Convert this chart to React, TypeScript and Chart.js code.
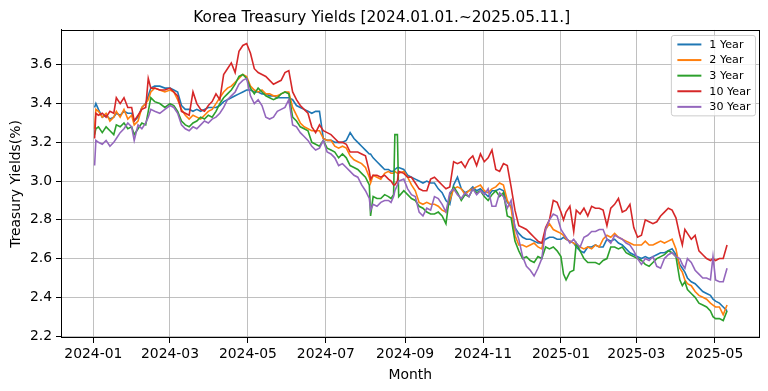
import React, { useEffect, useRef } from 'react';
import { Chart, registerables } from 'chart.js';

Chart.register(...registerables);

const TITLE = 'Korea Treasury Yields [2024.01.01.~2025.05.11.]';
const X_TITLE = 'Month';
const Y_TITLE = 'Treasury Yields(%)';

// days since 2024-01-01
const days = [
  1, 2, 4, 7, 10, 13, 16, 18, 21, 24, 27, 30, 32, 35, 38, 41, 43, 45, 48, 52, 56,
  60, 63, 66, 69, 72, 75, 78, 81, 84, 87, 90, 93, 96, 99, 102, 105, 108, 111, 114, 117, 120, 123, 126,
  129, 132, 135, 138, 141, 144, 147, 150, 153, 156, 159, 162, 165, 168, 171, 174, 177, 180, 183, 186, 189, 192,
  195, 198, 201, 204, 207, 210, 213, 216, 217, 219, 222, 225, 228, 231, 233, 235, 236, 238, 239, 243, 246, 249, 252, 255, 258,
  261, 264, 267, 270, 273, 276, 279, 282, 285, 288, 291, 294, 297, 300, 303, 306, 309, 312, 315, 318, 321, 324,
  327, 330, 333, 336, 339, 342, 345, 348, 351, 354, 357, 360, 363, 366, 368, 370, 373, 376, 378, 381, 384, 387, 390,
  393, 396, 399, 402, 405, 408, 411, 414, 417, 420, 423, 426, 429, 432, 435, 438, 441, 444, 447, 450, 453, 456,
  459, 461, 463, 465, 468, 471, 474, 477, 480, 483, 485, 487, 490, 493, 496,
];

const y1Year = [
  3.38, 3.40, 3.37, 3.33, 3.34, 3.32, 3.33, 3.35, 3.34, 3.36, 3.35, 3.35, 3.31, 3.33, 3.38, 3.40, 3.44, 3.48, 3.49, 3.49, 3.48,
  3.48, 3.47, 3.46, 3.39, 3.37, 3.37, 3.36, 3.37, 3.36, 3.37, 3.38, 3.38, 3.38, 3.39, 3.41, 3.42, 3.43, 3.44, 3.45, 3.46, 3.47, 3.47, 3.46,
  3.46, 3.45, 3.45, 3.44, 3.44, 3.43, 3.43, 3.43, 3.43, 3.42, 3.39, 3.38, 3.37, 3.36, 3.35, 3.36, 3.36, 3.22, 3.21, 3.21, 3.20, 3.20,
  3.20, 3.21, 3.25, 3.22, 3.20, 3.18, 3.16, 3.14, 3.14, 3.12, 3.10, 3.08, 3.06, 3.06, 3.05, 3.05, 3.06, 3.07, 3.07, 3.06, 3.03, 3.02, 3.01, 3.00, 2.99,
  3.00, 2.99, 2.99, 2.96, 2.94, 2.90, 2.88, 2.98, 3.02, 2.96, 2.94, 2.95, 2.97, 2.95, 2.96, 2.94, 2.92, 2.95, 2.95, 2.96, 2.95, 2.89,
  2.87, 2.76, 2.73, 2.71, 2.70, 2.70, 2.69, 2.68, 2.68, 2.70, 2.71, 2.71, 2.70, 2.70, 2.71, 2.70, 2.69, 2.68, 2.66, 2.64, 2.63, 2.66, 2.66,
  2.67, 2.66, 2.66, 2.70, 2.69, 2.70, 2.68, 2.67, 2.65, 2.63, 2.62, 2.61, 2.60, 2.61, 2.60, 2.61, 2.62, 2.63, 2.63, 2.64, 2.65, 2.62,
  2.57, 2.55, 2.53, 2.50, 2.48, 2.47, 2.45, 2.43, 2.42, 2.41, 2.39, 2.38, 2.37, 2.35, 2.33,
];

const y2Year = [
  3.27, 3.37, 3.36, 3.33, 3.35, 3.31, 3.33, 3.36, 3.33, 3.37, 3.32, 3.34, 3.29, 3.31, 3.38, 3.40, 3.42, 3.46, 3.48, 3.47, 3.46,
  3.47, 3.46, 3.42, 3.37, 3.34, 3.32, 3.34, 3.33, 3.32, 3.34, 3.36, 3.37, 3.40, 3.43, 3.46, 3.48, 3.49, 3.51, 3.53, 3.55, 3.54, 3.49, 3.47,
  3.46, 3.47, 3.45, 3.45, 3.44, 3.44, 3.45, 3.46, 3.46, 3.38, 3.34, 3.30, 3.28, 3.27, 3.26, 3.26, 3.26, 3.22, 3.21, 3.21, 3.18, 3.17,
  3.18, 3.17, 3.13, 3.11, 3.10, 3.09, 3.07, 3.02, 2.99, 3.03, 3.02, 3.01, 3.04, 3.05, 3.04, 3.04, 3.05, 3.04, 3.04, 3.05, 3.02, 2.98, 2.95, 2.89, 2.88,
  2.89, 2.88, 2.88, 2.87, 2.85, 2.84, 2.90, 2.96, 2.97, 2.96, 2.93, 2.95, 2.96, 2.97, 2.98, 2.95, 2.94, 2.96, 2.97, 2.99, 2.98, 2.90,
  2.86, 2.72, 2.67, 2.67, 2.66, 2.67, 2.68, 2.66, 2.65, 2.75, 2.78, 2.75, 2.74, 2.73, 2.72, 2.70, 2.69, 2.68, 2.67, 2.66, 2.65, 2.66, 2.65,
  2.67, 2.66, 2.70, 2.72, 2.71, 2.73, 2.71, 2.70, 2.69, 2.68, 2.67, 2.67, 2.67, 2.69, 2.67, 2.67, 2.68, 2.69, 2.68, 2.69, 2.70, 2.65,
  2.55, 2.53, 2.49, 2.47, 2.46, 2.43, 2.41, 2.40, 2.39, 2.37, 2.36, 2.35, 2.35, 2.31, 2.36,
];

const y3Year = [
  3.24, 3.27, 3.28, 3.25, 3.28, 3.26, 3.24, 3.29, 3.28, 3.30, 3.27, 3.28, 3.24, 3.27, 3.30, 3.29, 3.36, 3.43, 3.41, 3.40, 3.38,
  3.40, 3.39, 3.36, 3.31, 3.29, 3.28, 3.30, 3.31, 3.33, 3.32, 3.34, 3.33, 3.36, 3.40, 3.43, 3.45, 3.47, 3.50, 3.54, 3.55, 3.53, 3.48, 3.45,
  3.48, 3.46, 3.44, 3.43, 3.42, 3.43, 3.45, 3.46, 3.45, 3.33, 3.31, 3.28, 3.27, 3.26, 3.20, 3.19, 3.18, 3.21, 3.17, 3.16, 3.15, 3.12,
  3.14, 3.12, 3.08, 3.07, 3.06, 3.04, 3.02, 2.98, 2.82, 2.92, 2.91, 2.91, 2.93, 2.92, 2.91, 2.93, 3.24, 3.24, 2.92, 2.95, 2.93, 2.91, 2.90, 2.87, 2.86,
  2.84, 2.83, 2.83, 2.84, 2.82, 2.78, 2.93, 2.97, 2.94, 2.90, 2.93, 2.92, 2.96, 2.94, 2.95, 2.92, 2.90, 2.93, 2.95, 2.92, 2.94, 2.82,
  2.81, 2.69, 2.64, 2.60, 2.61, 2.59, 2.58, 2.61, 2.60, 2.66, 2.65, 2.66, 2.64, 2.61, 2.52, 2.49, 2.53, 2.54, 2.68, 2.64, 2.60, 2.58, 2.58,
  2.58, 2.57, 2.59, 2.60, 2.66, 2.66, 2.65, 2.66, 2.63, 2.62, 2.61, 2.60, 2.59, 2.57, 2.56, 2.58, 2.60, 2.61, 2.62, 2.64, 2.63, 2.61,
  2.49, 2.46, 2.48, 2.44, 2.42, 2.40, 2.37, 2.36, 2.35, 2.33, 2.30, 2.29, 2.29, 2.28, 2.33,
];

const y10Year = [
  3.22, 3.35, 3.34, 3.35, 3.33, 3.36, 3.35, 3.43, 3.40, 3.43, 3.38, 3.38, 3.31, 3.34, 3.37, 3.38, 3.53, 3.48, 3.48, 3.47, 3.47,
  3.48, 3.46, 3.44, 3.36, 3.35, 3.34, 3.46, 3.40, 3.37, 3.36, 3.39, 3.41, 3.45, 3.42, 3.55, 3.58, 3.61, 3.56, 3.67, 3.70, 3.71, 3.66, 3.58,
  3.56, 3.55, 3.54, 3.52, 3.50, 3.51, 3.52, 3.56, 3.57, 3.46, 3.42, 3.39, 3.37, 3.35, 3.28, 3.25, 3.29, 3.26, 3.25, 3.24, 3.22, 3.20,
  3.20, 3.19, 3.15, 3.15, 3.15, 3.14, 3.13, 3.05, 3.01, 3.03, 3.03, 3.02, 3.03, 3.01, 3.00, 2.98, 2.98, 3.00, 3.05, 3.04, 3.02, 3.02, 2.99, 2.96, 2.95,
  2.95, 3.01, 3.02, 3.00, 2.98, 2.96, 2.97, 3.10, 3.09, 3.10, 3.07, 3.11, 3.13, 3.08, 3.14, 3.10, 3.12, 3.16, 3.06, 3.05, 3.09, 3.08,
  2.97, 2.85, 2.77, 2.76, 2.75, 2.73, 2.71, 2.69, 2.68, 2.76, 2.80, 2.90, 2.89, 2.84, 2.80, 2.84, 2.87, 2.74, 2.85, 2.83, 2.86, 2.82, 2.87,
  2.86, 2.86, 2.85, 2.77, 2.86, 2.88, 2.91, 2.84, 2.85, 2.88, 2.76, 2.71, 2.72, 2.80, 2.79, 2.78, 2.79, 2.82, 2.84, 2.86, 2.85, 2.81,
  2.72, 2.67, 2.75, 2.73, 2.70, 2.72, 2.64, 2.62, 2.60, 2.59, 2.60, 2.59, 2.60, 2.60, 2.67,
];

const y30Year = [
  3.08, 3.21, 3.20, 3.19, 3.21, 3.18, 3.20, 3.22, 3.25, 3.27, 3.30, 3.28, 3.21, 3.29, 3.27, 3.30, 3.33, 3.37, 3.36, 3.35, 3.37,
  3.39, 3.38, 3.35, 3.29, 3.27, 3.26, 3.28, 3.27, 3.29, 3.31, 3.30, 3.32, 3.33, 3.35, 3.38, 3.42, 3.44, 3.46, 3.50, 3.52, 3.53, 3.44, 3.40,
  3.42, 3.39, 3.33, 3.32, 3.33, 3.36, 3.37, 3.38, 3.42, 3.29, 3.28, 3.25, 3.23, 3.21, 3.18, 3.16, 3.17, 3.21, 3.15, 3.14, 3.12, 3.08,
  3.09, 3.07, 3.05, 3.03, 3.02, 2.98, 2.95, 2.91, 2.85, 2.88, 2.87, 2.89, 2.90, 2.90, 2.89, 2.92, 2.95, 2.98, 3.00, 3.01, 2.96, 2.93, 2.92, 2.84, 2.82,
  2.86, 2.85, 2.92, 2.91, 2.88, 2.84, 2.94, 2.96, 2.93, 2.91, 2.94, 2.92, 2.96, 2.93, 2.95, 2.93, 2.96, 2.87, 2.87, 2.94, 2.92, 2.86,
  2.90, 2.76, 2.70, 2.61, 2.56, 2.54, 2.51, 2.55, 2.60, 2.75, 2.80, 2.83, 2.82, 2.75, 2.73, 2.71, 2.68, 2.70, 2.68, 2.66, 2.71, 2.72, 2.74,
  2.74, 2.75, 2.75, 2.70, 2.68, 2.72, 2.71, 2.70, 2.68, 2.67, 2.64, 2.60, 2.57, 2.60, 2.59, 2.61, 2.56, 2.55, 2.60, 2.62, 2.63, 2.61,
  2.60, 2.57, 2.55, 2.60, 2.58, 2.54, 2.52, 2.50, 2.50, 2.49, 2.61, 2.49, 2.48, 2.48, 2.55,
];

const seriesLabels = ['1 Year', '2 Year', '3 Year', '10 Year', '30 Year'];
const seriesColors = ['#1f77b4', '#ff7f0e', '#2ca02c', '#d62728', '#9467bd'];
const seriesValues = [y1Year, y2Year, y3Year, y10Year, y30Year];

const monthTickDays = [0, 60, 121, 182, 244, 305, 366, 425, 486];
const monthTickLabels = ['2024-01', '2024-03', '2024-05', '2024-07', '2024-09', '2024-11', '2025-01', '2025-03', '2025-05'];
const yTicks = [2.2, 2.4, 2.6, 2.8, 3.0, 3.2, 3.4, 3.6];

const FONT = "'DejaVu Sans', sans-serif";

const framePlugin = {
  id: 'frameAndLegend',
  afterDraw(chart: any) {
    const { ctx, chartArea: a } = chart;
    ctx.save();
    // axes frame
    ctx.strokeStyle = '#000';
    ctx.lineWidth = 1;
    ctx.strokeRect(Math.round(a.left) + 0.5, Math.round(a.top) + 0.5, Math.round(a.right - a.left) - 1, Math.round(a.bottom - a.top) - 1);

    // legend
    const fs = 11.1;
    ctx.font = `${fs}px ${FONT}`;
    const labels = chart.data.datasets.map((d: any) => d.label);
    let maxW = 0;
    labels.forEach((l: string) => { maxW = Math.max(maxW, ctx.measureText(l).width); });
    const pitch = 15.6;
    const boxW = 38 + maxW + 5;
    const boxH = 9 + pitch * (labels.length - 1) + 9;
    const bx = a.right - 4 - boxW;
    const by = a.top + 5.5;
    ctx.globalAlpha = 0.8;
    ctx.fillStyle = '#fff';
    ctx.beginPath();
    ctx.roundRect(bx, by, boxW, boxH, 2.5);
    ctx.fill();
    ctx.globalAlpha = 1;
    ctx.strokeStyle = '#cccccc';
    ctx.lineWidth = 1;
    ctx.stroke();
    chart.data.datasets.forEach((d: any, i: number) => {
      const cy = by + 9 + pitch * i;
      ctx.strokeStyle = d.borderColor;
      ctx.lineWidth = 2;
      ctx.beginPath();
      ctx.moveTo(bx + 6, cy);
      ctx.lineTo(bx + 30, cy);
      ctx.stroke();
      ctx.fillStyle = '#000';
      ctx.textBaseline = 'middle';
      ctx.textAlign = 'left';
      ctx.fillText(d.label, bx + 38, cy + 0.5);
    });
    ctx.restore();
  },
};

export default function App() {
  const ref = useRef<HTMLCanvasElement | null>(null);

  useEffect(() => {
    document.body.style.margin = '0';
    const canvas = ref.current;
    if (!canvas) return;
    Chart.defaults.font.family = FONT;
    Chart.defaults.color = '#000';

    const datasets = seriesLabels.map((label, i) => ({
      label,
      data: days.map((d, j) => ({ x: d, y: seriesValues[i][j] })),
      borderColor: seriesColors[i],
      backgroundColor: seriesColors[i],
      borderWidth: 1.6,
      pointRadius: 0,
      tension: 0,
      fill: false,
      order: seriesLabels.length - i,
    }));

    const gridOpts = { color: '#b0b0b0', lineWidth: 0.8, tickColor: '#000', tickLength: 5, tickWidth: 1, drawTicks: true };

    const chart = new Chart(canvas, {
      type: 'line',
      data: { datasets },
      plugins: [framePlugin],
      options: {
        responsive: false,
        animation: false,
        devicePixelRatio: 1,
        layout: { padding: { left: 4, right: 8.5, top: 0, bottom: 3.7 } },
        plugins: {
          legend: { display: false },
          tooltip: { enabled: false },
          title: {
            display: true,
            text: TITLE,
            color: '#000',
            font: { size: 15.3, family: FONT, weight: 'normal' },
            padding: { top: 8.5, bottom: 3.1 },
          },
        },
        scales: {
          x: {
            type: 'linear',
            min: -25.3,
            max: 521.4,
            afterBuildTicks: (s: any) => { s.ticks = monthTickDays.map((v) => ({ value: v })); },
            afterFit: (s: any) => { s.height = 49.3; },
            ticks: {
              autoSkip: false,
              maxRotation: 0,
              padding: 3.5,
              font: { size: 13.9, family: FONT },
              color: '#000',
              callback: (_v: any, idx: number) => monthTickLabels[idx],
            },
            grid: gridOpts,
            border: { display: true, color: '#000', width: 1 },
            title: { display: true, text: X_TITLE, font: { size: 13.9, family: FONT }, color: '#000', padding: { top: 2, bottom: 4 } },
          },
          y: {
            type: 'linear',
            min: 2.19,
            max: 3.78,
            afterBuildTicks: (s: any) => { s.ticks = yTicks.map((v) => ({ value: v })); },
            afterFit: (s: any) => { s.width = 57; },
            ticks: {
              padding: 4,
              font: { size: 13.9, family: FONT },
              color: '#000',
              callback: (v: any) => Number(v).toFixed(1),
            },
            grid: gridOpts,
            border: { display: true, color: '#000', width: 1 },
            title: { display: true, text: Y_TITLE, font: { size: 13.9, family: FONT }, color: '#000', padding: { top: 4, bottom: 2 } },
          },
        },
      } as any,
    });
    return () => chart.destroy();
  }, []);

  return (
    <div style={{ position: 'absolute', left: 0, top: 0, width: 768, height: 391, background: '#fff' }}>
      <canvas ref={ref} width={768} height={391} style={{ width: 768, height: 391, display: 'block' }} />
    </div>
  );
}
